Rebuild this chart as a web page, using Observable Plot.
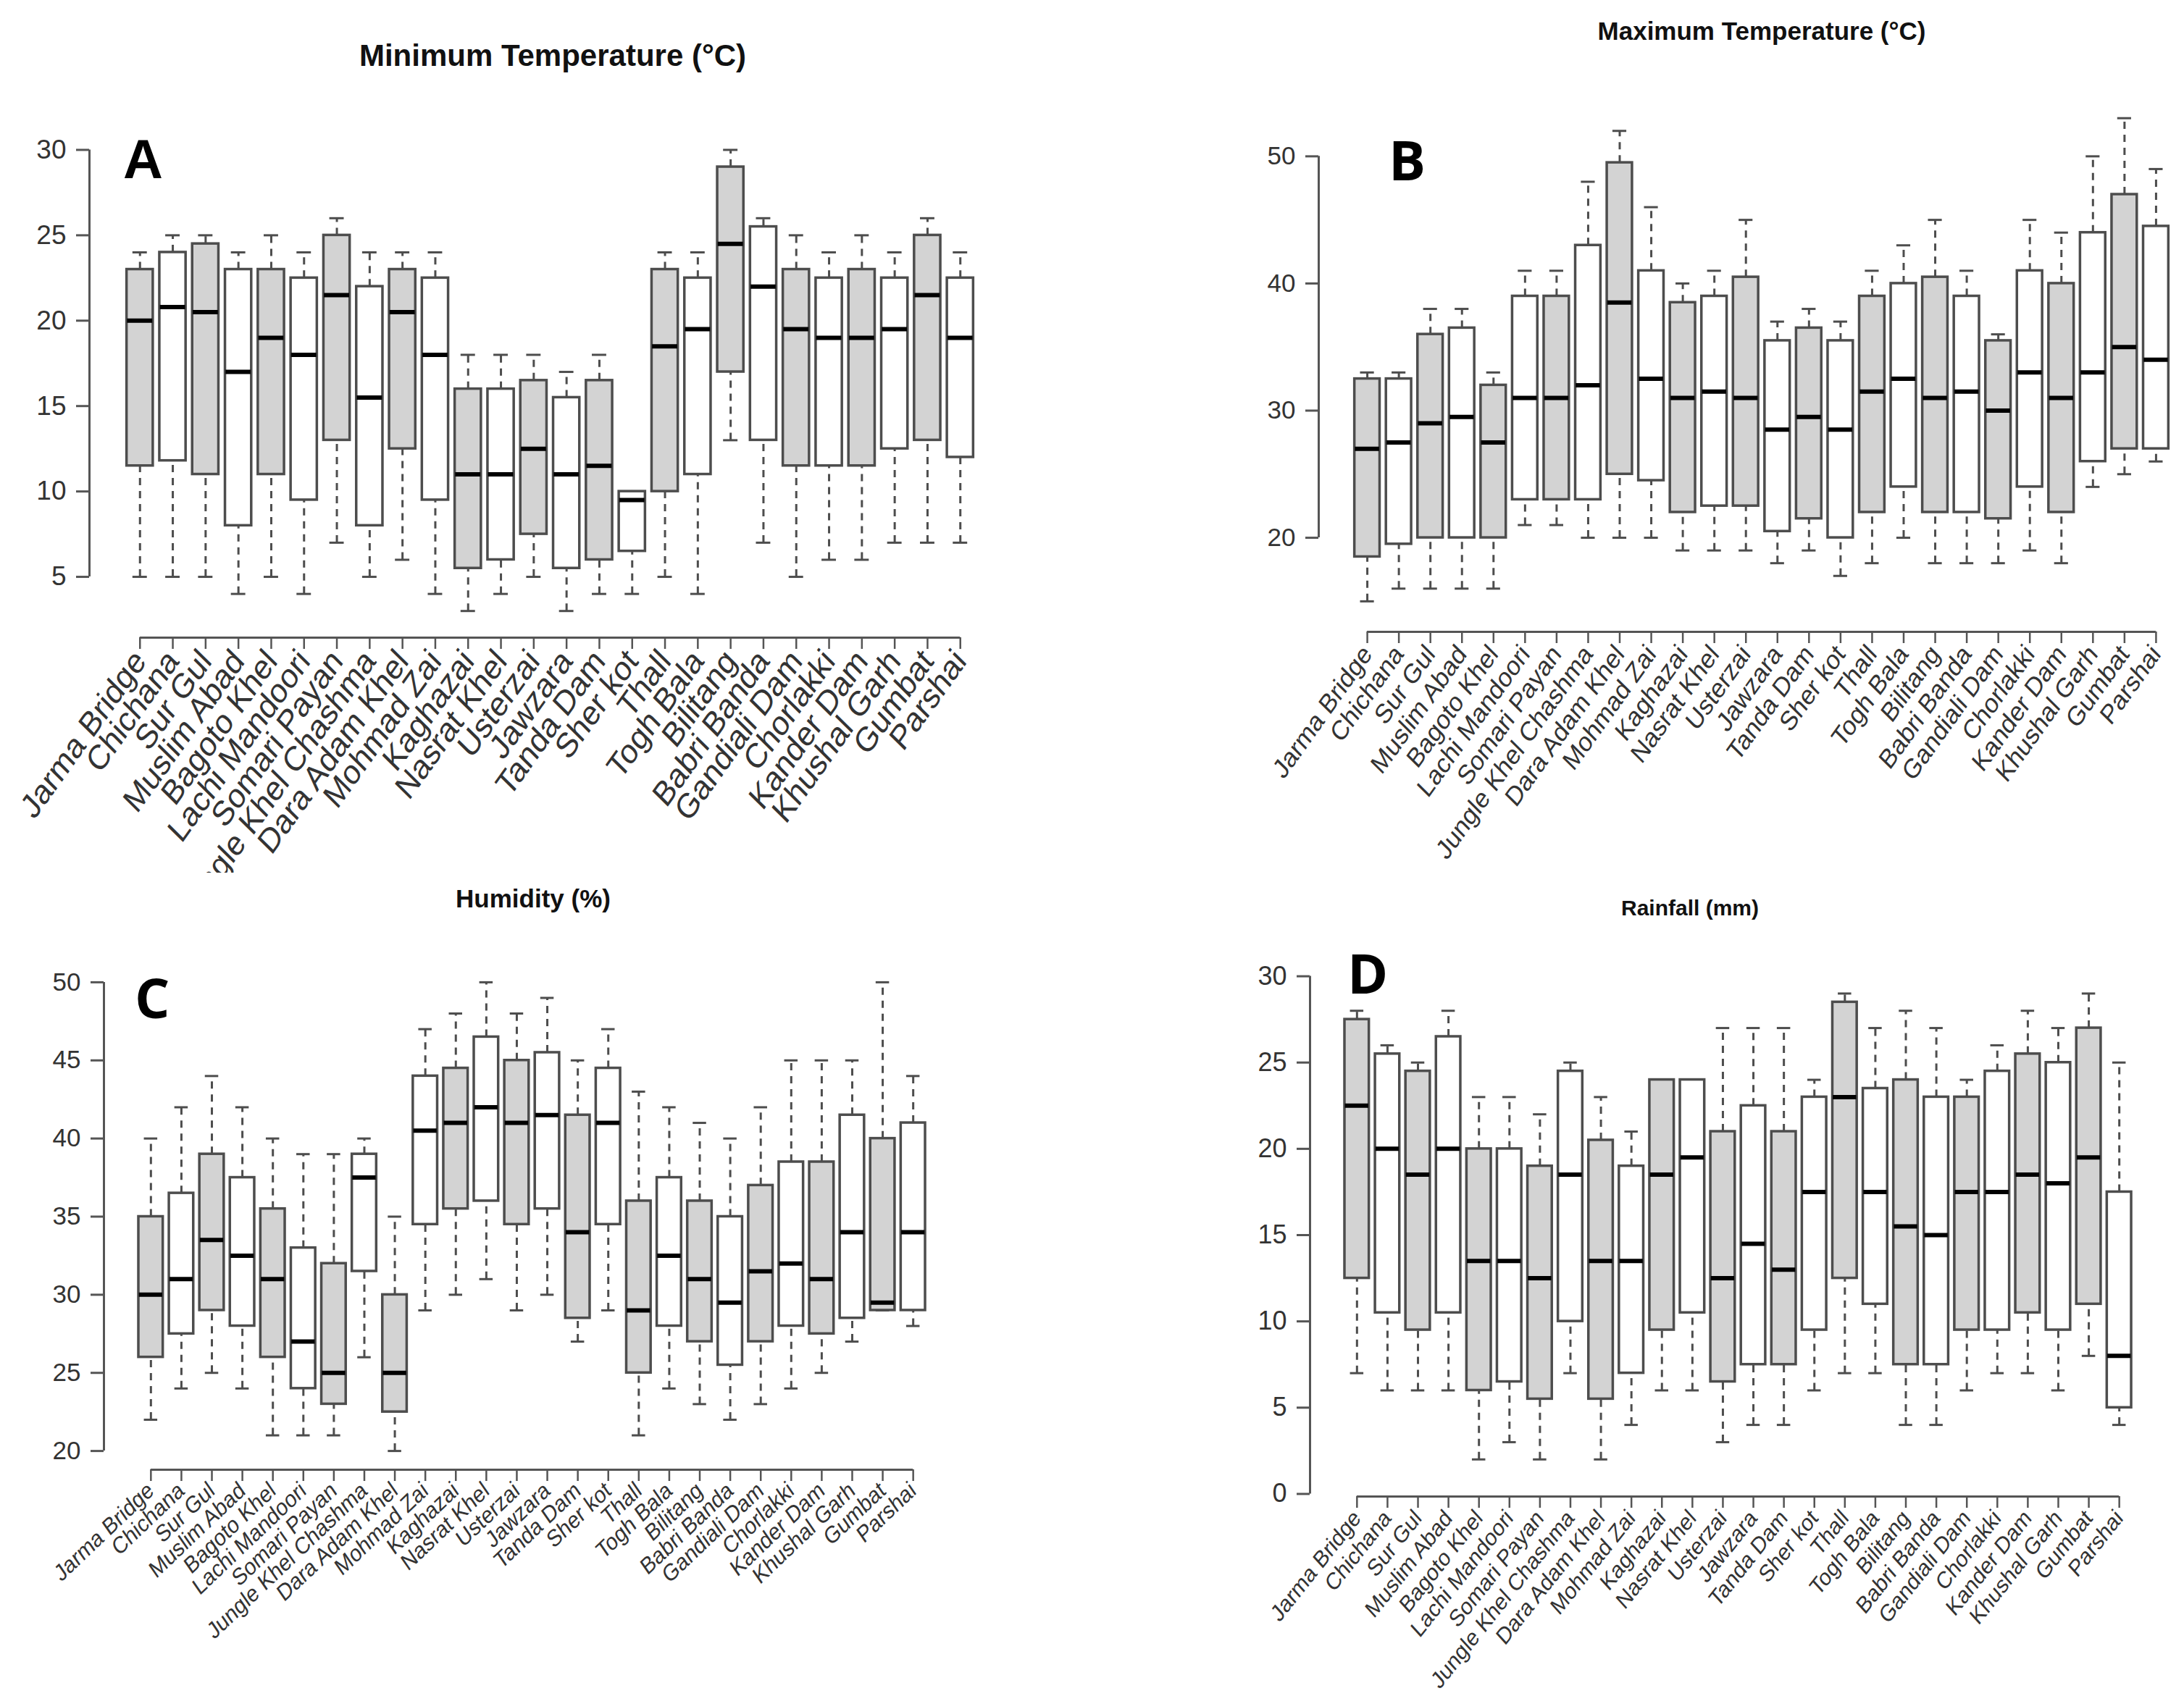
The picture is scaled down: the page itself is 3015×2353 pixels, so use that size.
<!DOCTYPE html>
<html><head><meta charset="utf-8">
<script src="https://cdn.jsdelivr.net/npm/d3@7"></script>
<script src="https://cdn.jsdelivr.net/npm/@observablehq/plot@0.6"></script>
<style>
body{margin:0;background:#fff;}
#wrap{position:relative;width:3015px;height:2353px;overflow:hidden;background:#fff;font-family:"Liberation Sans",Arial,sans-serif;}
.panel{position:absolute;}
.title{position:absolute;font-weight:bold;white-space:nowrap;transform:translate(-50%,-50%);color:#111;line-height:1;}
.letter{position:absolute;font-weight:bold;line-height:1;color:#000;}
</style></head><body><div id="wrap"></div>
<script>
const sites = ["Jarma Bridge","Chichana","Sur Gul","Muslim Abad","Bagoto Khel","Lachi Mandoori","Somari Payan","Jungle Khel Chashma","Dara Adam Khel","Mohmad Zai","Kaghazai","Nasrat Khel","Usterzai","Jawzara","Tanda Dam","Sher kot","Thall","Togh Bala","Bilitang","Babri Banda","Gandiali Dam","Chorlakki","Kander Dam","Khushal Garh","Gumbat","Parshai"];

// A: Minimum Temperature
const minLo  = [5,5,5,4,5,4,7,5,6,4,3,4,5,3,4,4,5,4,13,7,5,6,6,7,7,7];
const minQ1  = [11.5,11.8,11,8,11,9.5,13,8,12.5,9.5,5.5,6,7.5,5.5,6,6.5,10,11,17,13,11.5,11.5,11.5,12.5,13,12];
const minMed = [20,20.8,20.5,17,19,18,21.5,15.5,20.5,18,11,11,12.5,11,11.5,9.5,18.5,19.5,24.5,22,19.5,19,19,19.5,21.5,19];
const minQ3  = [23,24,24.5,23,23,22.5,25,22,23,22.5,16,16,16.5,15.5,16.5,10,23,22.5,29,25.5,23,22.5,23,22.5,25,22.5];
const minHi  = [24,25,25,24,25,24,26,24,24,24,18,18,18,17,18,10,24,24,30,26,25,24,25,24,26,24];
const minTicks = [5,10,15,20,25,30];

// B: Maximum Temperature
const maxLo  = [15,16,16,16,16,21,21,20,20,20,19,19,19,18,19,17,18,20,18,18,18,19,18,24,25,26];
const maxQ1  = [18.5,19.5,20,20,20,23,23,23,25,24.5,22,22.5,22.5,20.5,21.5,20,22,24,22,22,21.5,24,22,26,27,27];
const maxMed = [27,27.5,29,29.5,27.5,31,31,32,38.5,32.5,31,31.5,31,28.5,29.5,28.5,31.5,32.5,31,31.5,30,33,31,33,35,34];
const maxQ3  = [32.5,32.5,36,36.5,32,39,39,43,49.5,41,38.5,39,40.5,35.5,36.5,35.5,39,40,40.5,39,35.5,41,40,44,47,44.5];
const maxHi  = [33,33,38,38,33,41,41,48,52,46,40,41,45,37,38,37,41,43,45,41,36,45,44,50,53,49];
const maxTicks = [20,30,40,50];

// C: Humidity
const humLo  = [22,24,25,24,21,21,21,26,20,29,30,31,29,30,27,29,21,24,23,22,23,24,25,27,29,28];
const humQ1  = [26,27.5,29,28,26,24,23,31.5,22.5,34.5,35.5,36,34.5,35.5,28.5,34.5,25,28,27,25.5,27,28,27.5,28.5,29,29];
const humMed = [30,31,33.5,32.5,31,27,25,37.5,25,40.5,41,42,41,41.5,34,41,29,32.5,31,29.5,31.5,32,31,34,29.5,34];
const humQ3  = [35,36.5,39,37.5,35.5,33,32,39,30,44,44.5,46.5,45,45.5,41.5,44.5,36,37.5,36,35,37,38.5,38.5,41.5,40,41];
const humHi  = [40,42,44,42,40,39,39,40,35,47,48,50,48,49,45,47,43,42,41,40,42,45,45,45,50,44];
const humTicks = [20,25,30,35,40,45,50];

// D: Rainfall
const rainLo  = [7,6,6,6,2,3,2,7,2,4,6,6,3,4,4,6,7,7,4,4,6,7,7,6,8,4];
const rainQ1  = [12.5,10.5,9.5,10.5,6,6.5,5.5,10,5.5,7,9.5,10.5,6.5,7.5,7.5,9.5,12.5,11,7.5,7.5,9.5,9.5,10.5,9.5,11,5];
const rainMed = [22.5,20,18.5,20,13.5,13.5,12.5,18.5,13.5,13.5,18.5,19.5,12.5,14.5,13,17.5,23,17.5,15.5,15,17.5,17.5,18.5,18,19.5,8];
const rainQ3  = [27.5,25.5,24.5,26.5,20,20,19,24.5,20.5,19,24,24,21,22.5,21,23,28.5,23.5,24,23,23,24.5,25.5,25,27,17.5];
const rainHi  = [28,26,25,28,23,23,22,25,23,21,24,24,27,27,27,24,29,27,28,27,24,26,28,27,29,25];
const rainTicks = [0,5,10,15,20,25,30];

const wrap = document.getElementById("wrap");
const EDGE = "#4d4d4d", AXIS = "#555", GREY = "#d3d3d3";
const FONT = "Liberation Sans, Arial, sans-serif";

function panel(cfg) {
  const n = sites.length;
  const rows = sites.map((s, i) => ({i: i + 1, site: s, lo: cfg.lo[i], q1: cfg.q1[i], med: cfg.med[i], q3: cfg.q3[i], hi: cfg.hi[i], shade: i % 2 === 0}));
  const xDomain = [1 - 1.54, n + 1.54];
  const t = cfg.ticks;
  const svg = Plot.plot({
    width: cfg.width, height: cfg.height,
    marginLeft: cfg.mL, marginRight: cfg.mR, marginTop: cfg.mT, marginBottom: cfg.mB,
    style: {background: "transparent", fontFamily: FONT, overflow: cfg.clip ? "hidden" : "visible", color: "#333"},
    x: {type: "linear", domain: xDomain},
    y: {domain: cfg.yDomain},
    marks: [
      Plot.ruleX(rows, {x: "i", y1: "q3", y2: "hi", stroke: EDGE, strokeWidth: 3, strokeDasharray: "10,8"}),
      Plot.ruleX(rows, {x: "i", y1: "lo", y2: "q1", stroke: EDGE, strokeWidth: 3, strokeDasharray: "10,8"}),
      Plot.ruleY(rows, {y: "hi", x1: d => d.i - 0.22, x2: d => d.i + 0.22, stroke: EDGE, strokeWidth: 3}),
      Plot.ruleY(rows, {y: "lo", x1: d => d.i - 0.22, x2: d => d.i + 0.22, stroke: EDGE, strokeWidth: 3}),
      Plot.rect(rows.filter(d => d.shade), {x1: d => d.i - 0.4, x2: d => d.i + 0.4, y1: "q1", y2: "q3", fill: GREY, stroke: EDGE, strokeWidth: 3.5}),
      Plot.rect(rows.filter(d => !d.shade), {x1: d => d.i - 0.4, x2: d => d.i + 0.4, y1: "q1", y2: "q3", fill: "#fff", stroke: EDGE, strokeWidth: 3.5}),
      Plot.ruleY(rows, {y: "med", x1: d => d.i - 0.385, x2: d => d.i + 0.385, stroke: "#000", strokeWidth: 6}),
      Plot.ruleX([xDomain[0]], {y1: t[0], y2: t[t.length - 1], stroke: AXIS, strokeWidth: 3}),
      Plot.axisY({ticks: t, label: null, tickSize: 18, tickPadding: 14, fontSize: cfg.tickFont, stroke: AXIS, strokeWidth: 3, fill: "#333"}),
      Plot.ruleY([cfg.yDomain[0]], {x1: 1, x2: n, stroke: AXIS, strokeWidth: 3}),
      Plot.axisX({ticks: rows.map(d => d.i), label: null, tickFormat: i => sites[i - 1], tickRotate: cfg.rot, tickSize: 16, tickPadding: 8, fontSize: cfg.labFont, stroke: AXIS, strokeWidth: 2.5, fill: "#333"})
    ]
  });
  // horizontally squeezed rotated labels, as in the source figure
  d3.select(svg).selectAll('g[aria-label="x-axis tick label"] text').each(function() {
    const tr = this.getAttribute("transform");
    if (tr) this.setAttribute("transform", tr.replace(/rotate\(/, "scale(0.85,1) rotate("));
  });
  svg.classList.add("panel");
  svg.style.left = cfg.left + "px";
  svg.style.top = cfg.top + "px";
  wrap.appendChild(svg);

  const ti = document.createElement("div");
  ti.className = "title";
  ti.textContent = cfg.title;
  ti.style.left = cfg.titleX + "px";
  ti.style.top = cfg.titleY + "px";
  ti.style.fontSize = cfg.titleFont + "px";
  wrap.appendChild(ti);

  const le = document.createElement("div");
  le.className = "letter";
  le.textContent = cfg.letter;
  le.style.left = cfg.letterX + "px";
  le.style.top = (cfg.letterY - 0.13 * 76) + "px";
  le.style.fontSize = "76px";
  le.style.fontFamily = cfg.letterFamily;
  wrap.appendChild(le);
}

panel({title: "Minimum Temperature (\u00B0C)", titleX: 763, titleY: 77, titleFont: 42,
  letter: "A", letterX: 170, letterY: 192, letterFamily: FONT,
  lo: minLo, q1: minQ1, med: minMed, q3: minQ3, hi: minHi, ticks: minTicks,
  yDomain: [1.44, 31.08], left: 0, top: 0, width: 1500, height: 1205, clip: true,
  mL: 123, mR: 105, mT: 181, mB: 325, tickFont: 37, labFont: 48, rot: -50});

panel({title: "Maximum Temperature (\u00B0C)", titleX: 2432, titleY: 42, titleFont: 35,
  letter: "B", letterX: 1917, letterY: 192, letterFamily: "Open Sans, " + FONT,
  lo: maxLo, q1: maxQ1, med: maxMed, q3: maxQ3, hi: maxHi, ticks: maxTicks,
  yDomain: [12.6, 54.52], left: 1500, top: 0, width: 1560, height: 1180,
  mL: 320, mR: 17, mT: 136, mB: 308, tickFont: 35, labFont: 38, rot: -50});

panel({title: "Humidity (%)", titleX: 736, titleY: 1240, titleFont: 35,
  letter: "C", letterX: 186, letterY: 1349, letterFamily: "Open Sans, " + FONT,
  lo: humLo, q1: humQ1, med: humMed, q3: humQ3, hi: humHi, ticks: humTicks,
  yDomain: [18.8, 51.2], left: 0, top: 1200, width: 1500, height: 1153,
  mL: 143, mR: 175, mT: 130, mB: 324, tickFont: 35, labFont: 33, rot: -39});

panel({title: "Rainfall (mm)", titleX: 2333, titleY: 1254, titleFont: 30,
  letter: "D", letterX: 1860, letterY: 1315, letterFamily: "Open Sans, " + FONT,
  lo: rainLo, q1: rainQ1, med: rainMed, q3: rainQ3, hi: rainHi, ticks: rainTicks,
  yDomain: [-0.15, 31.2], left: 1500, top: 1200, width: 1515, height: 1153,
  mL: 308, mR: 25, mT: 119, mB: 287, tickFont: 36, labFont: 33, rot: -47});
</script></body></html>
